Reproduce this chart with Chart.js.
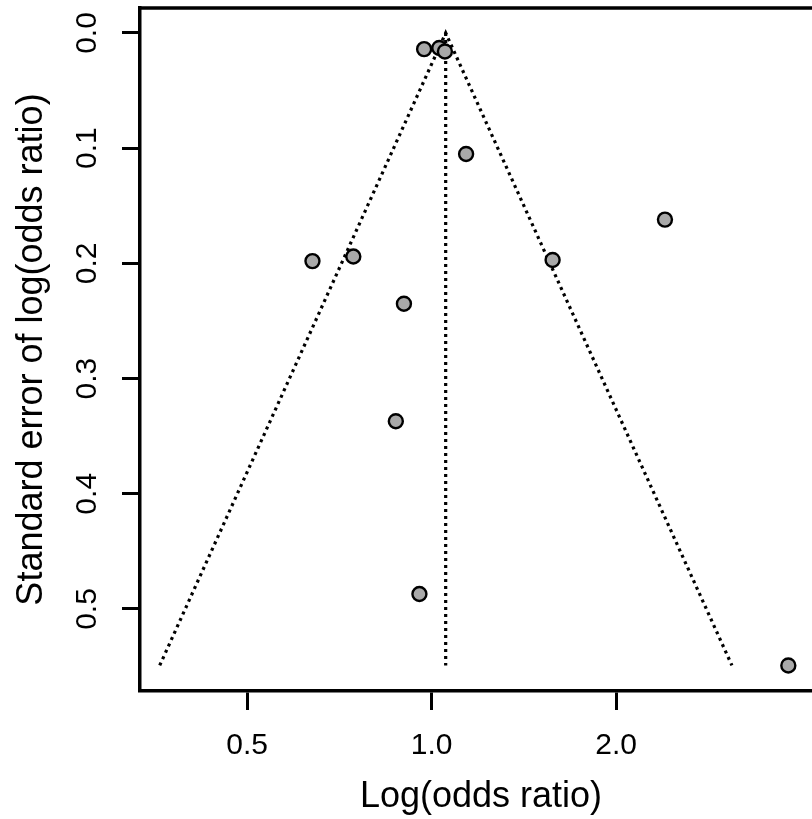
<!DOCTYPE html>
<html>
<head>
<meta charset="utf-8">
<script src="https://cdn.jsdelivr.net/npm/chart.js@4/dist/chart.umd.min.js"></script>
<style>
  html, body { margin: 0; padding: 0; background: #fff; overflow: hidden; }
  /* the plot box runs a little past the right edge, as in the cropped original */
  #wrap { width: 822px; height: 819px; }
</style>
</head>
<body>
<div id="wrap"><canvas id="funnel"></canvas></div>
<script>
// studies: odds ratio (plotted on log axis) and standard error of log(OR)
const studyOR = [0.972, 1.029, 1.051, 1.138, 2.402, 1.575, 0.639, 0.745, 0.901, 0.874, 0.955, 3.818];
const studySE = [0.014, 0.013, 0.016, 0.105, 0.162, 0.197, 0.198, 0.194, 0.235, 0.337, 0.487, 0.549];

// pooled estimate line and pseudo 95% funnel
const centerOR = [1.054, 1.054];
const centerSE = [0, 0.549];
const funnelOR = [0.360, 1.054, 3.089];
const funnelSE = [0.549, 0, 0.549];

const xTicks = [0.5, 1, 2];
const yTicks = [0, 0.1, 0.2, 0.3, 0.4, 0.5];

const pairs = (xs, ys) => xs.map((x, i) => ({x: x, y: ys[i]}));

const FONT = '"Liberation Sans", Arial, sans-serif';

const dotted = {
  type: 'line',
  showLine: true,
  borderColor: '#000',
  borderWidth: 3.2,
  borderDash: [3, 4],
  borderCapStyle: 'butt',
  pointRadius: 0,
  fill: false,
  tension: 0
};

// top edge of the box (R draws a full box)
const boxTop = {
  id: 'boxTop',
  afterDraw(chart) {
    const {ctx, chartArea} = chart;
    ctx.save();
    ctx.strokeStyle = '#000';
    ctx.lineWidth = 3.5;
    ctx.beginPath();
    ctx.moveTo(chartArea.left - 1.5, chartArea.top);
    ctx.lineTo(chartArea.right + 2, chartArea.top);
    ctx.stroke();
    ctx.restore();
  }
};

new Chart(document.getElementById('funnel'), {
  type: 'scatter',
  data: {
    datasets: [
      {
        label: 'studies',
        data: pairs(studyOR, studySE),
        pointRadius: 7,
        pointBackgroundColor: '#a9a9a9',
        pointBorderColor: '#000',
        pointBorderWidth: 2.4
      },
      {label: 'center', data: pairs(centerOR, centerSE), ...dotted},
      {label: 'funnel', data: pairs(funnelOR, funnelSE), ...dotted}
    ]
  },
  options: {
    responsive: true,
    maintainAspectRatio: false,
    animation: false,
    layout: {autoPadding: false, padding: {top: 8, left: 0, right: 0, bottom: 0}},
    plugins: {legend: {display: false}, tooltip: {enabled: false}},
    scales: {
      x: {
        type: 'logarithmic',
        bounds: 'data',
        min: 0.3343,
        max: 4.333,
        afterBuildTicks: (s) => { s.ticks = xTicks.map(v => ({value: v})); },
        afterFit: (s) => { s.height = 128; s.paddingLeft = 0; s.paddingRight = 0; },
        ticks: {
          autoSkip: false,
          maxRotation: 0,
          padding: 18,
          color: '#000',
          font: {family: FONT, size: 30},
          callback: (v) => Number(v).toFixed(1)
        },
        grid: {drawOnChartArea: false, drawTicks: true, tickLength: 19, tickWidth: 3, tickColor: '#000'},
        border: {display: true, color: '#000', width: 3.5},
        title: {
          display: true,
          text: 'Log(odds ratio)',
          color: '#000',
          font: {family: FONT, size: 36},
          padding: {top: 0, bottom: 0}
        }
      },
      y: {
        type: 'linear',
        bounds: 'data',
        reverse: true,
        min: -0.0217,
        max: 0.5712,
        afterBuildTicks: (s) => { s.ticks = yTicks.map(v => ({value: v})); },
        afterFit: (s) => { s.width = 140; s.paddingTop = 0; s.paddingBottom = 0; },
        ticks: {
          autoSkip: false,
          minRotation: 90,
          maxRotation: 90,
          crossAlign: 'center',
          padding: 13.5,
          color: '#000',
          font: {family: FONT, size: 30},
          callback: (v) => Number(v).toFixed(1)
        },
        grid: {drawOnChartArea: false, drawTicks: true, tickLength: 18, tickWidth: 3, tickColor: '#000'},
        border: {display: true, color: '#000', width: 3.5},
        title: {
          display: true,
          text: 'Standard error of log(odds ratio)',
          color: '#000',
          font: {family: FONT, size: 36},
          padding: {top: 10, bottom: 0}
        }
      }
    }
  },
  plugins: [boxTop]
});
</script>
</body>
</html>
